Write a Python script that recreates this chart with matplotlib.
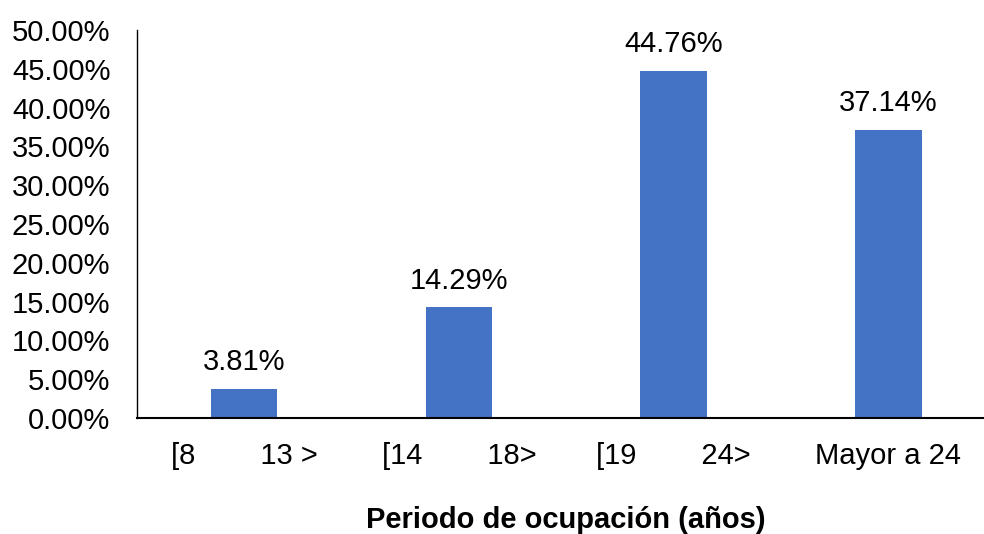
import matplotlib.pyplot as plt
from matplotlib.ticker import FuncFormatter

plt.rcParams['font.family'] = ['Liberation Sans', 'DejaVu Sans']

categories = ["[8        13 >", "[14        18>", "[19        24>", "Mayor a 24"]
values = [3.81, 14.29, 44.76, 37.14]
value_labels = ["3.81%", "14.29%", "44.76%", "37.14%"]

fig = plt.figure(figsize=(9.84, 5.34), dpi=100)
ax = fig.add_axes([0.139, 0.217, 0.873, 0.727])

x = range(len(categories))
bars = ax.bar(x, values, width=0.31, color="#4472C4", zorder=2)

for b, lbl in zip(bars, value_labels):
    ax.annotate(lbl, (b.get_x() + b.get_width() / 2, b.get_height()),
                xytext=(0, 9), textcoords="offset points",
                ha="center", va="bottom", fontsize=21, color="#000000")

ax.set_xlim(-0.5, len(categories) - 0.5)
ax.set_ylim(0, 50)
ax.set_yticks(range(0, 51, 5))
ax.yaxis.set_major_formatter(FuncFormatter(lambda v, p: f"{v:.2f}%"))
ax.set_xticks(list(x))
ax.set_xticklabels(categories)
ax.tick_params(axis="y", length=0, pad=19, labelsize=21)
ax.tick_params(axis="x", length=0, pad=17, labelsize=21)

ax.spines["top"].set_visible(False)
ax.spines["right"].set_visible(False)
ax.spines["left"].set_color("#000000")
ax.spines["bottom"].set_color("#000000")
ax.spines["left"].set_linewidth(1.0)
ax.spines["bottom"].set_linewidth(1.5)

ax.set_xlabel("Periodo de ocupación (años)", fontsize=21, fontweight="bold", labelpad=26)

fig.savefig("out.png", dpi=100)
